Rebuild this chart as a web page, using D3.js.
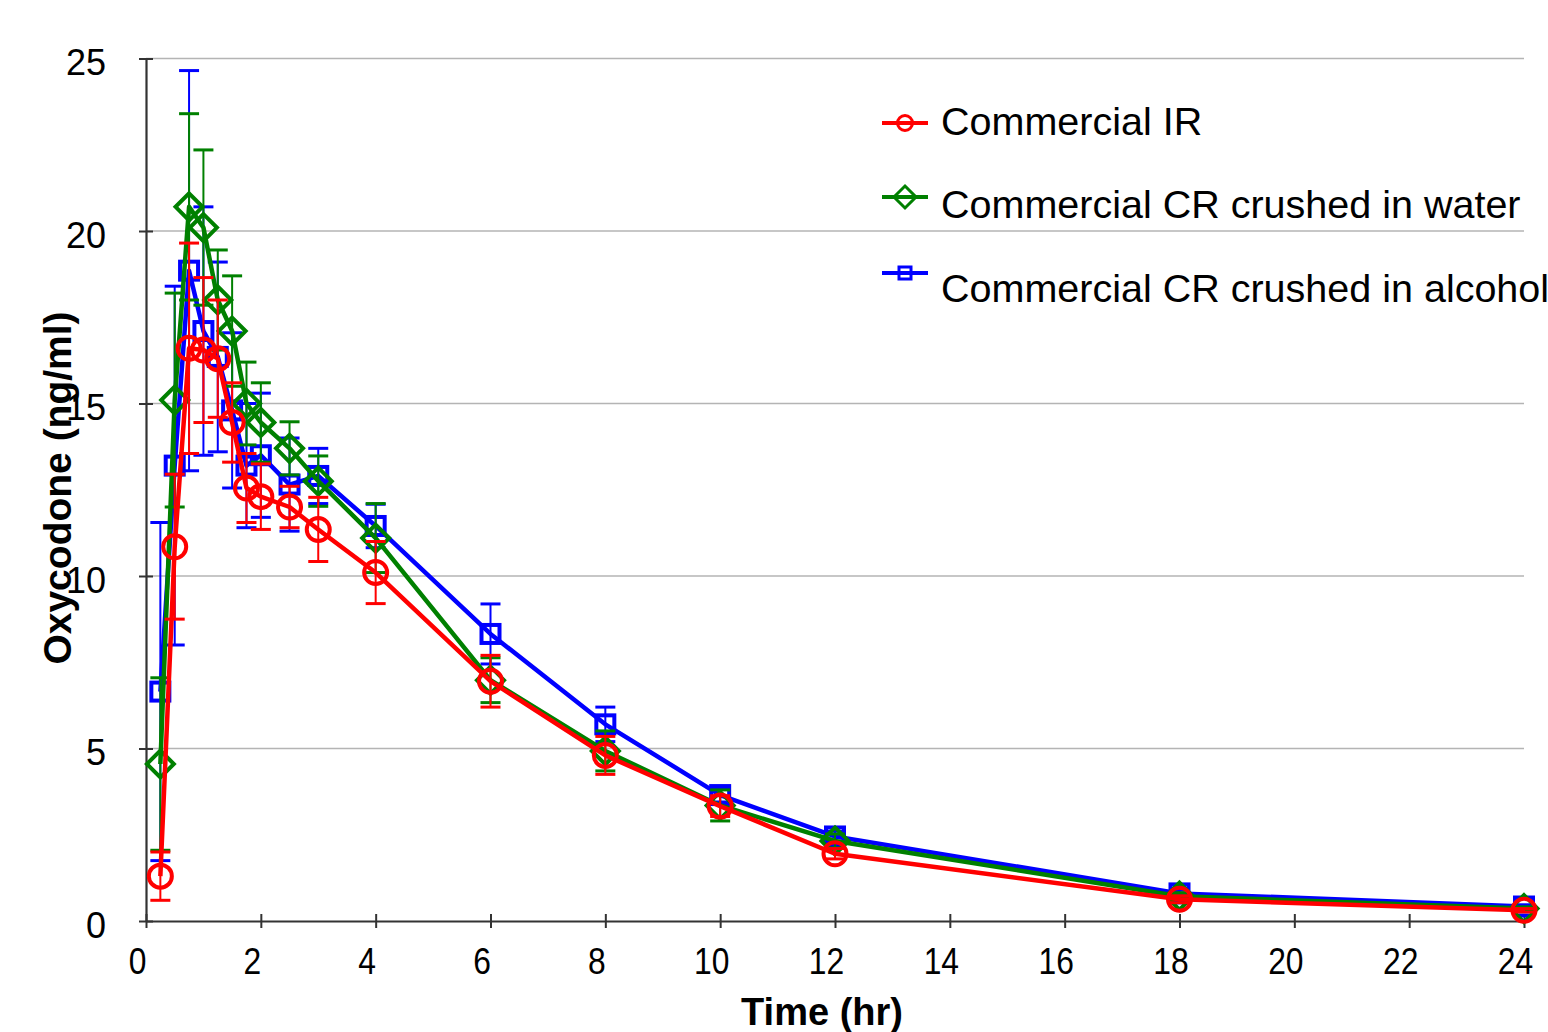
<!DOCTYPE html>
<html lang="en">
<head>
    <meta charset="UTF-8">
    <title>Oxycodone</title>
    <style>
        body {
            margin: 0;
            background: #ffffff;
        }
        text {
            font-family: "Liberation Sans", Arial, sans-serif;
        }
    </style>
</head>
<body>
    <div class="vis"><svg width="1548" height="1032"></svg></div>
    <script src="https://cdnjs.cloudflare.com/ajax/libs/d3/7.8.5/d3.min.js"></script>
    <script>
        // sampling times (hr)
        var times = [0.25, 0.5, 0.75, 1, 1.25, 1.5, 1.75, 2, 2.5, 3, 4, 6, 8, 10, 12, 18, 24];

        // mean concentrations (ng/ml) and SD
        var irMean = [1.3, 10.85, 16.6, 16.55, 16.3, 14.45, 12.55, 12.3, 12.0, 11.35, 10.1, 6.95, 4.8, 3.33, 1.95, 0.63, 0.31];
        var irSd = [0.7, 2.1, 3.05, 2.1, 1.7, 1.15, 1.0, 0.95, 0.6, 0.93, 0.9, 0.75, 0.55, 0.3, 0.15, 0.1, 0.05];

        var waterMean = [4.55, 15.1, 20.7, 20.1, 18.0, 17.1, 15.0, 14.45, 13.7, 12.75, 11.1, 6.98, 4.93, 3.35, 2.32, 0.72, 0.36];
        var waterSd = [2.5, 3.1, 2.7, 2.25, 1.45, 1.6, 1.2, 1.15, 0.77, 0.73, 1.0, 0.65, 0.58, 0.45, 0.2, 0.1, 0.05];

        var alcoholMean = [6.65, 13.2, 18.85, 17.1, 16.35, 14.8, 13.2, 13.5, 12.65, 12.9, 11.45, 8.32, 5.7, 3.65, 2.45, 0.8, 0.42];
        var alcoholSd = [4.9, 5.2, 5.8, 3.6, 2.75, 2.25, 1.8, 1.8, 1.35, 0.8, 0.63, 0.87, 0.5, 0.2, 0.15, 0.1, 0.05];

        var seriesNames = ["Commercial IR", "Commercial CR crushed in water", "Commercial CR crushed in alcohol"];
        var xTicks = [0, 2, 4, 6, 8, 10, 12, 14, 16, 18, 20, 22, 24];
        var yTicks = [0, 5, 10, 15, 20, 25];

        var series = [
            { name: seriesNames[0], mean: irMean, sd: irSd, color: "#ff0000", shape: "circle" },
            { name: seriesNames[1], mean: waterMean, sd: waterSd, color: "#008000", shape: "diamond" },
            { name: seriesNames[2], mean: alcoholMean, sd: alcoholSd, color: "#0000ff", shape: "square" }
        ];

        var svg = d3.select('.vis svg');

        var xScale = d3.scaleLinear().domain([0, 24]).range([146, 1524]);
        var yScale = d3.scaleLinear().domain([0, 25]).range([921, 58.5]);

        // grid
        svg.selectAll('line.grid')
            .data(yTicks.filter(d => d > 0))
            .enter()
            .append('line')
            .attr('class', 'grid')
            .attr('x1', xScale(0))
            .attr('x2', xScale(24))
            .attr('y1', d => yScale(d))
            .attr('y2', d => yScale(d))
            .attr('stroke', '#b4b4b4')
            .attr('stroke-width', 1.5);

        // axes
        var xAxis = svg.append('g')
            .attr('transform', `translate(0, ${yScale(0)})`)
            .call(d3.axisBottom(xScale).tickValues(xTicks).tickSizeInner(7).tickSizeOuter(0).tickPadding(20));
        xAxis.selectAll('.tick line').attr('y1', -7);
        xAxis.selectAll('.tick text')
            .attr('font-size', 37)
            .attr('font-family', null)
            .attr('fill', '#000')
            .attr('transform', 'translate(-9, 0) scale(0.86, 1)');

        var yAxis = svg.append('g')
            .attr('transform', `translate(${xScale(0)}, 0)`)
            .call(d3.axisLeft(yScale).tickValues(yTicks).tickSizeInner(7).tickSizeOuter(0).tickPadding(33));
        yAxis.selectAll('.tick line').attr('x1', 7);
        yAxis.selectAll('.tick text')
            .attr('font-size', 36)
            .attr('font-family', null)
            .attr('dy', '0.45em')
            .attr('fill', '#000');

        svg.selectAll('.domain').attr('stroke', '#333').attr('stroke-width', 2.2);
        svg.selectAll('.tick line').attr('stroke', '#333').attr('stroke-width', 2);

        // axis titles
        svg.append('text')
            .attr('x', 822)
            .attr('y', 1025)
            .attr('text-anchor', 'middle')
            .attr('font-size', 38)
            .attr('font-weight', 'bold')
            .text('Time (hr)');

        svg.append('text')
            .attr('transform', 'translate(71, 488) rotate(-90)')
            .attr('text-anchor', 'middle')
            .attr('font-size', 39)
            .attr('font-weight', 'bold')
            .text('Oxycodone (ng/ml)');

        function drawMarker(g, shape, color, size, lw) {
            if (shape === 'circle') {
                g.append('circle').attr('r', size).attr('fill', 'none')
                    .attr('stroke', color).attr('stroke-width', lw);
            } else if (shape === 'diamond') {
                g.append('path').attr('d', `M0,${-size}L${size},0L0,${size}L${-size},0Z`)
                    .attr('fill', 'none').attr('stroke', color).attr('stroke-width', lw);
            } else {
                g.append('rect').attr('x', -size).attr('y', -size)
                    .attr('width', size * 2).attr('height', size * 2)
                    .attr('fill', 'none').attr('stroke', color).attr('stroke-width', lw);
            }
        }

        var markerSize = { circle: 11.5, diamond: 13.5, square: 9 };
        var legendSize = { circle: 7.5, diamond: 11, square: 6 };

        var line = d3.line()
            .x(d => xScale(d.t))
            .y(d => yScale(d.v));

        // blue first, red on top
        series.slice().reverse().forEach(function (s) {
            var pts = times.map((t, i) => ({ t: t, v: s.mean[i], sd: s.sd[i] }));
            var g = svg.append('g').attr('class', 'series');

            var eb = g.selectAll('g.err')
                .data(pts)
                .enter()
                .append('g')
                .attr('class', 'err')
                .attr('stroke', s.color);
            eb.append('line')
                .attr('x1', d => xScale(d.t))
                .attr('x2', d => xScale(d.t))
                .attr('y1', d => yScale(d.v + d.sd))
                .attr('y2', d => yScale(Math.max(0, d.v - d.sd)))
                .attr('stroke-width', 2);
            eb.append('line')
                .attr('x1', d => xScale(d.t) - 10)
                .attr('x2', d => xScale(d.t) + 10)
                .attr('y1', d => yScale(d.v + d.sd))
                .attr('y2', d => yScale(d.v + d.sd))
                .attr('stroke-width', 3);
            eb.append('line')
                .attr('x1', d => xScale(d.t) - 10)
                .attr('x2', d => xScale(d.t) + 10)
                .attr('y1', d => yScale(Math.max(0, d.v - d.sd)))
                .attr('y2', d => yScale(Math.max(0, d.v - d.sd)))
                .attr('stroke-width', 3);

            g.append('path')
                .datum(pts)
                .attr('d', line)
                .attr('fill', 'none')
                .attr('stroke', s.color)
                .attr('stroke-width', 4.5)
                .attr('stroke-linejoin', 'round');

            g.selectAll('g.mark')
                .data(pts)
                .enter()
                .append('g')
                .attr('class', 'mark')
                .attr('transform', d => `translate(${xScale(d.t)}, ${yScale(d.v)})`)
                .each(function () {
                    drawMarker(d3.select(this), s.shape, s.color, markerSize[s.shape], 4);
                });
        });

        // legend
        var legendLineY = [123, 197, 273];
        var legendTextY = [135, 218, 302];
        var legend = svg.selectAll('g.legend')
            .data(series)
            .enter()
            .append('g')
            .attr('class', 'legend');
        legend.append('line')
            .attr('x1', 882)
            .attr('x2', 928)
            .attr('y1', (d, i) => legendLineY[i])
            .attr('y2', (d, i) => legendLineY[i])
            .attr('stroke', d => d.color)
            .attr('stroke-width', 4);
        legend.append('g')
            .attr('transform', (d, i) => `translate(905, ${legendLineY[i]})`)
            .each(function (d) {
                drawMarker(d3.select(this), d.shape, d.color, legendSize[d.shape], 3);
            });
        legend.append('text')
            .attr('x', 941)
            .attr('y', (d, i) => legendTextY[i])
            .attr('font-size', 39.5)
            .text(d => d.name);
    </script>
</body>
</html>
